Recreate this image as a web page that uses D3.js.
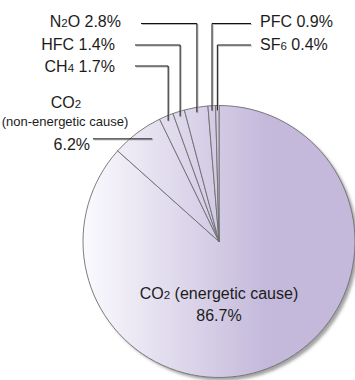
<!DOCTYPE html>
<html>
<head>
<meta charset="utf-8">
<script src="https://cdn.jsdelivr.net/npm/d3@7/dist/d3.min.js"></script>
<style>
  html, body { margin: 0; padding: 0; background: #fff; }
  svg { display: block; font-family: "Liberation Sans", Arial, sans-serif; }
</style>
</head>
<body>
<svg id="chart" width="355" height="380"></svg>
<script>
// Greenhouse gas emissions by gas (share of total, %)
const gases   = ["CO2 (energetic cause)", "CO2 (non-energetic cause)", "CH4", "HFC", "N2O", "PFC", "SF6"];
const shares  = [86.7, 6.2, 1.7, 1.4, 2.8, 0.9, 0.4];
// Label pieces: [text, isSubscript]
const labelParts = [
  [["CO", false], ["2", true], [" (energetic cause)", false]],
  [["CO", false], ["2", true]],
  [["CH", false], ["4", true]],
  [["HFC", false]],
  [["N", false], ["2", true], ["O", false]],
  [["PFC", false]],
  [["SF", false], ["6", true]]
];

const svg = d3.select("#chart");
const cx = 219, cy = 241.5, R = 136;
const fontSize = 16;
const ink = "#1c1c1c";

const defs = svg.append("defs");
// gradient coordinates are relative to the pie centre (the group below)
const grad = defs.append("linearGradient")
  .attr("id", "pieFill")
  .attr("gradientUnits", "userSpaceOnUse")
  .attr("x1", -R).attr("y1", 0)
  .attr("x2", R * 0.35).attr("y2", 0);
grad.append("stop").attr("offset", 0).attr("stop-color", "#fbfafe");
grad.append("stop").attr("offset", 1).attr("stop-color", "#c4b9db");

const shadow = defs.append("filter").attr("id", "pieShadow")
  .attr("x", "-10%").attr("y", "-10%").attr("width", "130%").attr("height", "130%");
shadow.append("feDropShadow")
  .attr("dx", 3).attr("dy", 3).attr("stdDeviation", 1.6)
  .attr("flood-color", "#555").attr("flood-opacity", 0.55);

const pie = d3.pie().sort(null).value(d => d).startAngle(0).endAngle(2 * Math.PI);
const arcs = pie(shares);
const arc = d3.arc().innerRadius(0).outerRadius(R);

const g = svg.append("g").attr("transform", `translate(${cx},${cy})`);

// disc with shadow, then slices on top
g.append("circle").attr("r", R)
  .attr("fill", "url(#pieFill)")
  .attr("filter", "url(#pieShadow)");

g.selectAll("path.slice")
  .data(arcs)
  .join("path")
  .attr("class", "slice")
  .attr("d", arc)
  .attr("fill", "url(#pieFill)")
  .attr("stroke", "#6e6e6e")
  .attr("stroke-width", 0.9)
  .attr("stroke-linejoin", "round");

// polar helper: angle measured clockwise from 12 o'clock
const polar = (a, r) => [Math.sin(a) * r, -Math.cos(a) * r];

function addText(sel, parts, size) {
  parts.forEach(([t, sub]) => {
    sel.append("tspan")
      .attr("font-size", sub ? size * 0.72 : size)
      .text(t);
  });
  return sel;
}

const leaders = svg.append("g");
function leader(points) {
  const line = d3.line();
  leaders.append("path").attr("d", line(points))
    .attr("transform", "translate(1,1)")
    .attr("fill", "none").attr("stroke", "#b4b4b4").attr("stroke-width", 1);
  leaders.append("path").attr("d", line(points))
    .attr("fill", "none").attr("stroke", "#111").attr("stroke-width", 1);
}

// Small slices near the top: vertical leader from the slice, then horizontal to the label row
const rEnd = R - 5;
const rowY = { "N2O": 23.5, "HFC": 45, "CH4": 66, "PFC": 23.5, "SF6": 45 };
const textY = { "N2O": 26.7, "HFC": 50, "CH4": 72.3, "PFC": 27.3, "SF6": 50 };
const leftSide = { "N2O": 141, "HFC": 135, "CH4": 135 };
const rightEnd = 251;

arcs.forEach((a, i) => {
  const name = gases[i];
  if (!(name in rowY)) return;
  const mid = (a.startAngle + a.endAngle) / 2;
  const [px, py] = polar(mid, rEnd);
  const x = cx + px, y = cy + py;
  const ry = rowY[name];
  const label = svg.append("text")
    .attr("y", textY[name])
    .attr("fill", ink)
    .attr("font-size", fontSize);
  if (name in leftSide) {
    leader([[x, y], [x, ry], [leftSide[name], ry]]);
    label.attr("x", leftSide[name] - 20).attr("text-anchor", "end");
  } else {
    leader([[x, y], [x, ry], [rightEnd, ry]]);
    label.attr("x", rightEnd + 9).attr("text-anchor", "start");
  }
  addText(label, labelParts[i].concat([[" " + d3.format(".1f")(shares[i]) + "%", false]]), fontSize);
});

// CO2 (non-energetic cause): horizontal leader into the slice
{
  const a = arcs[1];
  const ang = a.startAngle + 0.68 * (a.endAngle - a.startAngle);
  const [px, py] = polar(ang, R * 0.9);
  const x = cx + px, y = cy + py;
  leader([[93, y], [x, y]]);
  addText(svg.append("text").attr("x", 66).attr("y", 108.3)
    .attr("text-anchor", "middle").attr("fill", ink).attr("font-size", fontSize),
    labelParts[1], fontSize);
  svg.append("text").attr("x", 65).attr("y", 126)
    .attr("text-anchor", "middle").attr("fill", ink).attr("font-size", 13)
    .text("(non-energetic cause)");
  svg.append("text").attr("x", 90).attr("y", 150)
    .attr("text-anchor", "end").attr("fill", ink).attr("font-size", fontSize)
    .text(d3.format(".1f")(shares[1]) + "%");
}

// Main slice label inside the pie
addText(svg.append("text").attr("x", cx).attr("y", 299)
  .attr("text-anchor", "middle").attr("fill", ink).attr("font-size", fontSize),
  labelParts[0], fontSize);
svg.append("text").attr("x", cx).attr("y", 320.7)
  .attr("text-anchor", "middle").attr("fill", ink).attr("font-size", fontSize)
  .text(d3.format(".1f")(shares[0]) + "%");
</script>
</body>
</html>
